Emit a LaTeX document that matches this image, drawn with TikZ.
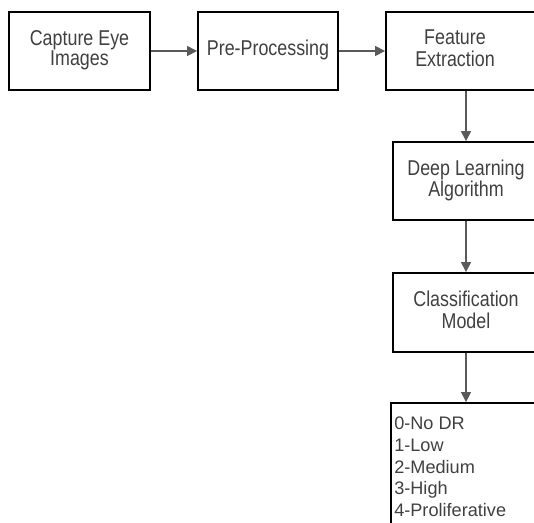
\documentclass[tikz,border=0pt]{standalone}
\usepackage{fontspec}
\usepackage{graphicx}
\setmainfont{Liberation Sans}
\usetikzlibrary{arrows.meta}
\definecolor{ink}{HTML}{404040}
\definecolor{wire}{HTML}{5A5A5A}
% box captions are set a little taller than wide
\newcommand{\tallcaption}[1]{\scalebox{1}[1.2]{\begin{tabular}{@{}c@{}}#1\end{tabular}}}

\begin{document}
\begin{tikzpicture}[x=0.75pt,y=-0.75pt,
  stage/.style={draw=black, line width=1.4pt, rectangle, inner sep=0pt,
    minimum height={78*0.75pt}, text=ink,
    font=\fontsize{13.4}{12.5}\selectfont},
  caption/.style={inner sep=0pt, text=ink, font=\fontsize{13.4}{12.5}\selectfont},
  listtext/.style={inner sep=0pt, text=ink, font=\fontsize{13.6}{16.4}\selectfont},
  flow/.style={draw=wire, line width=1.1pt, -{Triangle[length=7.5pt,width=7.5pt]}}
]
\useasboundingbox (0,0) rectangle (534,522);
\clip (0,0) rectangle (534,522);

% pipeline stages
\node[stage, minimum width={141*0.75pt}] (capture) at (79.5,51) {\tallcaption{Capture Eye\\Images}};
\node[stage, minimum width={140*0.75pt}] (prep) at (268,51) {\tallcaption{Pre-Processing}};
\node[stage, minimum width={160*0.75pt}] (feat) at (466,51) {};
\node[caption] (featcap) at ([xshift={-11*0.75pt}]feat.center) {\tallcaption{Feature\\Extraction}};
\node[stage, minimum width={146*0.75pt}] (deep) at (466,181) {\tallcaption{Deep Learning\\Algorithm}};
\node[stage, minimum width={146*0.75pt}, minimum height={79*0.75pt}] (model) at (466,312.5) {\tallcaption{Classification\\Model}};

% output classes
\node[stage, minimum width={150*0.75pt}, minimum height={125*0.75pt}] (classes) at (466,465.5) {};
\node[listtext, anchor=base west] (classlist) at (394,429.3)
  {\begin{tabular}[t]{@{}l@{}}0-No DR\\1-Low\\2-Medium\\3-High\\4-Proliferative\end{tabular}};

% connectors
\draw[flow] (capture) -- (prep);
\draw[flow] (prep) -- (feat);
\draw[flow] (feat) -- (deep);
\draw[flow] (deep) -- (model);
\draw[flow] (model) -- (classes);
\end{tikzpicture}
\end{document}
